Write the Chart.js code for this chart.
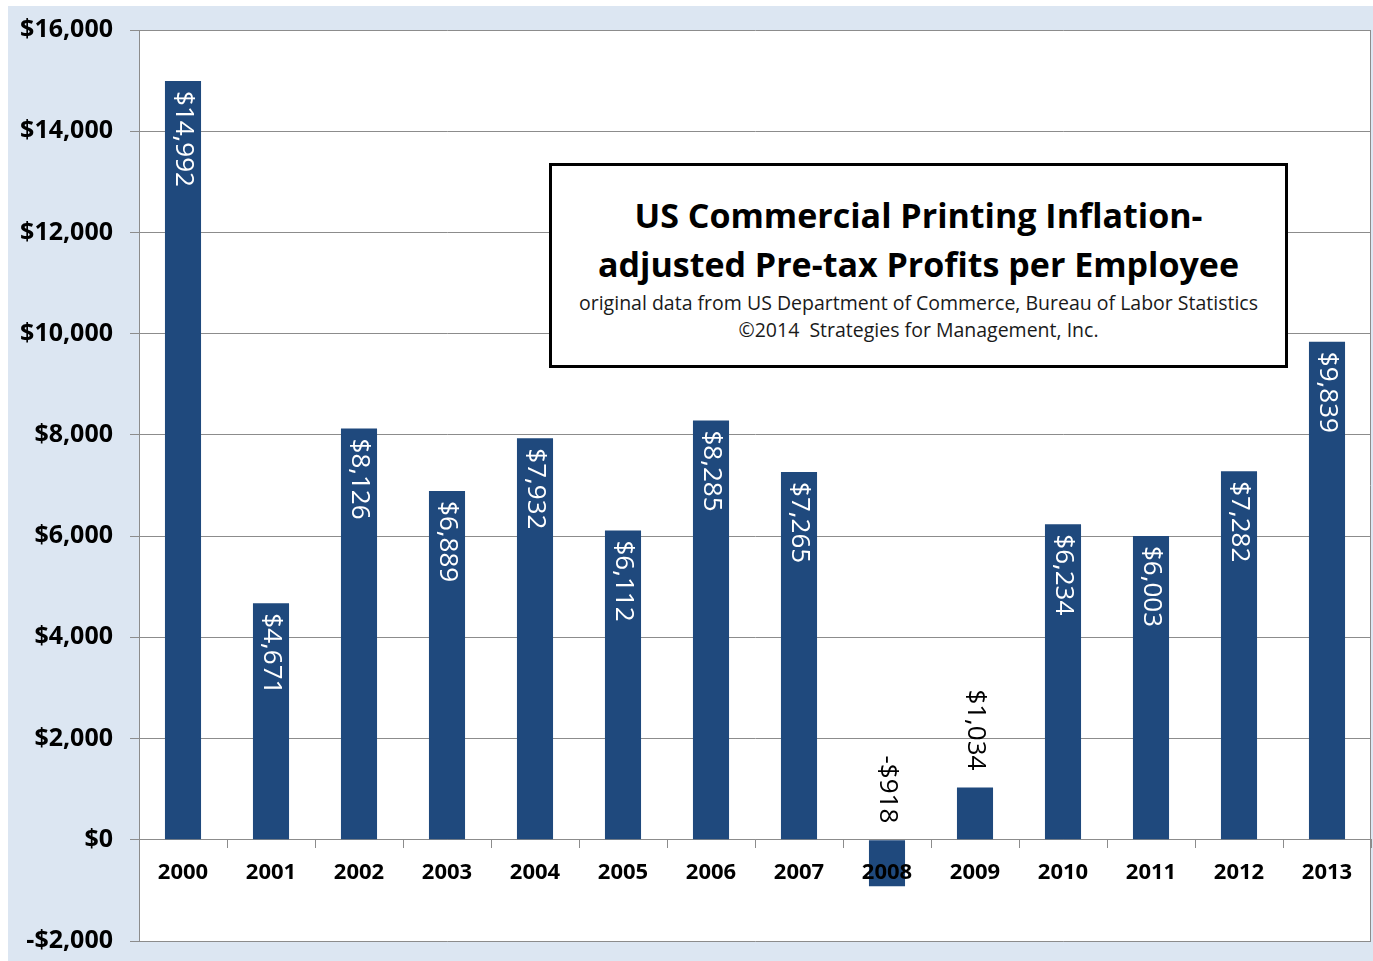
<!DOCTYPE html>
<html>
<head>
<meta charset="utf-8">
<script src="https://cdn.jsdelivr.net/npm/chart.js@4/dist/chart.umd.min.js"></script>
<style>
  body { margin: 0; background: #fff; }
  #fondo {
    position: absolute; left: 8px; top: 6px;
    width: 1365px; height: 955px;
    background: #dce6f2;
  }
  #grafico { display: block; }
  #caixa {
    position: absolute; left: 549px; top: 163px;
    width: 739px; height: 205px;
    box-sizing: border-box;
    border: 3px solid #000;
    background: #fff;
    text-align: center;
    font-family: "Open Sans", sans-serif;
    padding-top: 25px;
  }
  #caixa .titulo { font-size: 34px; font-weight: bold; line-height: 49px; color: #000; }
  #caixa .fonte { font-size: 19.5px; line-height: 27px; color: #1a1a1a; }
</style>
</head>
<body>
<div id="fondo"><canvas id="grafico" width="1365" height="955"></canvas></div>
<div id="caixa">
  <div class="titulo">US Commercial Printing Inflation-<br>adjusted Pre-tax Profits per Employee</div>
  <div class="fonte">original data from US Department of Commerce, Bureau of Labor Statistics<br>&copy;2014&nbsp; Strategies for Management, Inc.</div>
</div>
<script>
// anos e lucro por empregado (US$)
var anos = ["2000","2001","2002","2003","2004","2005","2006","2007","2008","2009","2010","2011","2012","2013"];
var lucros = [14992, 4671, 8126, 6889, 7932, 6112, 8285, 7265, -918, 1034, 6234, 6003, 7282, 9839];
var eixo_min = -2000;
var eixo_max = 16000;
var eixo_passo = 2000;

var fonte = "'Open Sans', sans-serif";
var cinza = "#8c8c8c";

function dinheiro(v){
    var s = "$" + Math.abs(v).toLocaleString("en-US");
    return v < 0 ? "-" + s : s;
}

// fundo branco da area do grafico + borda direita
var fundo_area = {
    id: "fundo_area",
    beforeDraw: function(chart){
        var a = chart.chartArea, ctx = chart.ctx;
        ctx.save();
        ctx.fillStyle = "#fff";
        ctx.fillRect(a.left, a.top, a.right - a.left, a.bottom - a.top);
        ctx.restore();
    },
    afterDraw: function(chart){
        var a = chart.chartArea, ctx = chart.ctx;
        ctx.save();
        ctx.strokeStyle = cinza;
        ctx.lineWidth = 1;
        ctx.beginPath();
        ctx.moveTo(Math.round(a.right) - 0.5, a.top);
        ctx.lineTo(Math.round(a.right) - 0.5, a.bottom);
        ctx.stroke();
        ctx.restore();
    }
};

// rotulos verticais com o valor de cada barra
var rotulos = {
    id: "rotulos",
    afterDatasetsDraw: function(chart){
        var ctx = chart.ctx;
        var meta = chart.getDatasetMeta(0);
        ctx.save();
        ctx.font = "26px " + fonte;
        ctx.textBaseline = "middle";
        meta.data.forEach(function(bar, i){
            var texto = dinheiro(lucros[i]);
            var largura = ctx.measureText(texto).width;
            var topo = Math.min(bar.y, bar.base);
            var altura = Math.abs(bar.base - bar.y);
            ctx.save();
            if (lucros[i] > 0 && altura > largura + 20) {
                ctx.translate(bar.x, topo + 10);
                ctx.rotate(Math.PI / 2);
                ctx.textAlign = "left";
                ctx.fillStyle = "#fff";
            } else {
                ctx.translate(bar.x, topo - 17);
                ctx.rotate(Math.PI / 2);
                ctx.textAlign = "right";
                ctx.fillStyle = "#000";
            }
            ctx.fillText(texto, 0, 0);
            ctx.restore();
        });
        ctx.restore();
    }
};

var ctx = document.getElementById("grafico").getContext("2d");
var grafico = new Chart(ctx, {
    type: "bar",
    data: {
        labels: anos,
        datasets: [{
            data: lucros,
            backgroundColor: "#1f497d",
            borderWidth: 0,
            barPercentage: 0.41,
            categoryPercentage: 1
        }]
    },
    options: {
        responsive: false,
        animation: false,
        layout: { padding: { top: 24, right: 2, bottom: 20, left: 0 } },
        plugins: {
            legend: { display: false },
            tooltip: { enabled: false },
            title: { display: false }
        },
        scales: {
            x: {
                position: { y: 0 },
                offset: true,
                grid: {
                    offset: true,
                    drawOnChartArea: false,
                    drawTicks: true,
                    tickLength: 8,
                    color: cinza
                },
                border: { color: cinza },
                ticks: {
                    z: 1,
                    padding: 12,
                    color: "#000",
                    font: { family: fonte, size: 22, weight: "bold" }
                }
            },
            y: {
                min: eixo_min,
                max: eixo_max,
                afterFit: function(scale){
                    scale.width = 131;
                    scale.paddingTop = 0;
                    scale.paddingBottom = 0;
                },
                grid: { color: cinza, tickLength: 9 },
                border: { color: cinza },
                ticks: {
                    stepSize: eixo_passo,
                    padding: 17,
                    color: "#000",
                    font: { family: fonte, size: 25, weight: "bold" },
                    callback: function(v){ return dinheiro(v); }
                }
            }
        }
    },
    plugins: [fundo_area, rotulos]
});
</script>
</body>
</html>
